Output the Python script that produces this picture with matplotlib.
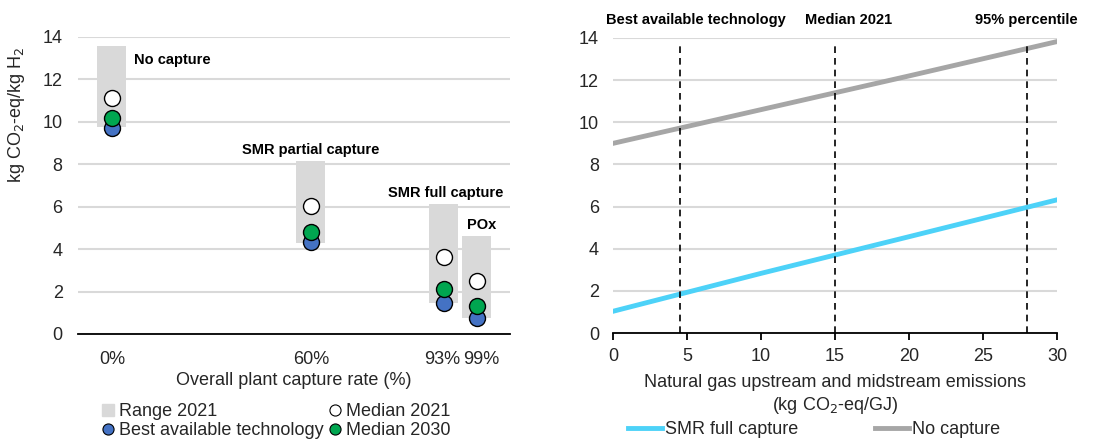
import matplotlib.pyplot as plt
from matplotlib.lines import Line2D
from matplotlib.transforms import ScaledTranslation

plt.rcParams['font.family'] = ['Liberation Sans', 'DejaVu Sans']

# Left panel data
capture_labels = ['0%', '60%', '93%', '99%']
capture_pos = [0, 6, 10, 11]
route_names = ['No capture', 'SMR partial capture', 'SMR full capture', 'POx']
range_low = [9.74, 4.31, 1.46, 0.75]
range_high = [13.56, 8.14, 6.13, 4.62]
median_2021 = [11.13, 6.03, 3.65, 2.51]
median_2030 = [10.20, 4.81, 2.12, 1.30]
best_tech = [9.69, 4.33, 1.46, 0.75]

# Right panel data
gas_emissions = [0, 10, 20, 30]
no_capture_line = [9.0, 10.6, 12.2, 13.83]
smr_full_line = [1.03, 2.83, 4.57, 6.32]
ref_x = [4.5, 15, 28]
ref_names = ['Best available technology', 'Median 2021', '95% percentile']

GRID = '#d9d9d9'
TXT = '#262626'
BLUE = '#4472c4'
GREEN = '#00a650'
RANGE = '#d9d9d9'
FS = 13

fig = plt.figure(figsize=(11.06, 4.46), dpi=100)
W, H = 1106, 446
ax1 = fig.add_axes([78 / W, (H - 334) / H, (510 - 78) / W, (334 - 37) / H])
ax2 = fig.add_axes([613 / W, (H - 333) / H, (1057 - 613) / W, (333 - 38) / H])

# ---- left panel
heights = [h - l for h, l in zip(range_high, range_low)]
ax1.bar(capture_pos, heights, bottom=range_low, width=0.87, color=RANGE, zorder=2)
ax1.plot(capture_pos, best_tech, 'o', ms=11.5, mfc=BLUE, mec='black', mew=1, ls='none', zorder=3)
ax1.plot(capture_pos, median_2030, 'o', ms=11.5, mfc=GREEN, mec='black', mew=1, ls='none', zorder=4)
ax1.plot(capture_pos, median_2021, 'o', ms=11.5, mfc='white', mec='black', mew=1, ls='none', zorder=5)

bold = dict(fontsize=10.5, fontweight='bold', va='center', color='black')
ax1.text(0.67, 12.93, route_names[0], ha='left', **bold)
ax1.text(6, 8.68, route_names[1], ha='center', **bold)
ax1.text(10.05, 6.66, route_names[2], ha='center', **bold)
ax1.text(11.15, 5.14, route_names[3], ha='center', **bold)

ax1.set_xlim(-1.02, 12.0)
ax1.set_ylim(0, 14)
ax1.set_yticks(range(0, 15, 2))
ax1.set_xticks(capture_pos)
ax1.set_xticklabels(capture_labels)
ax1.tick_params(axis='both', length=0, labelsize=FS, colors=TXT, pad=11)
ax1.tick_params(axis='x', pad=12)
xt = ax1.get_xticklabels()
xt[2].set_transform(xt[2].get_transform() + ScaledTranslation(-1 / 100, 0, fig.dpi_scale_trans))
xt[3].set_transform(xt[3].get_transform() + ScaledTranslation(4 / 100, 0, fig.dpi_scale_trans))
ax1.yaxis.grid(True, color=GRID, lw=1.5, zorder=0)
ax1.set_axisbelow(True)
for s in ['top', 'right', 'left']:
    ax1.spines[s].set_visible(False)
ax1.spines['bottom'].set_color('black')
ax1.spines['bottom'].set_linewidth(1.3)
ax1.set_xlabel('Overall plant capture rate (%)', fontsize=FS, color=TXT, labelpad=3)
ax1.set_ylabel('kg CO$_2$-eq/kg H$_2$', fontsize=FS, color=TXT)
ax1.yaxis.set_label_coords(-0.118, 0.74)

handles1 = [
    Line2D([], [], marker='s', ls='none', ms=9, mfc=RANGE, mec=RANGE, label='Range 2021'),
    Line2D([], [], marker='o', ls='none', ms=8, mfc=BLUE, mec='black', mew=0.8, label='Best available technology'),
    Line2D([], [], marker='o', ls='none', ms=8, mfc='white', mec='black', mew=0.8, label='Median 2021'),
    Line2D([], [], marker='o', ls='none', ms=8, mfc=GREEN, mec='black', mew=0.8, label='Median 2030'),
]
fig.legend(handles=handles1, ncol=2, loc='upper left', bbox_to_anchor=(103 / W, 1 - 403 / H),
           frameon=False, fontsize=FS, handlelength=0.6, handletextpad=0.3,
           columnspacing=0.32, labelspacing=0.12, borderaxespad=0, borderpad=0,
           labelcolor=TXT)

# ---- right panel
ax2.plot(gas_emissions, no_capture_line, color='#a6a6a6', lw=3.5, zorder=3)
ax2.plot(gas_emissions, smr_full_line, color='#4dd2f8', lw=3.5, zorder=3)
for x in ref_x:
    ax2.plot([x, x], [0, 13.75], color='black', lw=1.2, ls=(0, (4, 3)), zorder=4)
label_x = [5.6, 15.9, 27.9]
for x, name in zip(label_x, ref_names):
    ax2.text(x, 14.5, name, fontsize=10.5, fontweight='bold', ha='center', va='bottom', color='black')

ax2.set_xlim(0, 30)
ax2.set_ylim(0, 14)
ax2.set_yticks(range(0, 15, 2))
ax2.set_xticks(range(0, 31, 5))
ax2.tick_params(axis='y', length=0, labelsize=FS, colors=TXT, pad=10)
ax2.tick_params(axis='x', length=5, width=1.3, direction='out', labelsize=FS, colors=TXT, pad=6)
ax2.tick_params(axis='x', color='black')
ax2.yaxis.grid(True, color=GRID, lw=1.5, zorder=0)
ax2.set_axisbelow(True)
for s in ['top', 'right', 'left']:
    ax2.spines[s].set_visible(False)
ax2.spines['bottom'].set_color('black')
ax2.spines['bottom'].set_linewidth(1.3)
ax2.set_xlabel('Natural gas upstream and midstream emissions\n(kg CO$_2$-eq/GJ)',
               fontsize=FS, color=TXT, labelpad=6, linespacing=1.3)

handles2 = [
    Line2D([], [], color='#4dd2f8', lw=3.5, label='SMR full capture'),
    Line2D([], [], color='#a6a6a6', lw=3.5, label='No capture'),
]
fig.legend(handles=handles2, ncol=2, loc='upper left', bbox_to_anchor=(628 / W, 1 - 421 / H),
           frameon=False, fontsize=FS, handlelength=1.9, handletextpad=0.15,
           columnspacing=4.25, borderaxespad=0, borderpad=0, labelcolor=TXT)

fig.savefig('out.png', dpi=100)
